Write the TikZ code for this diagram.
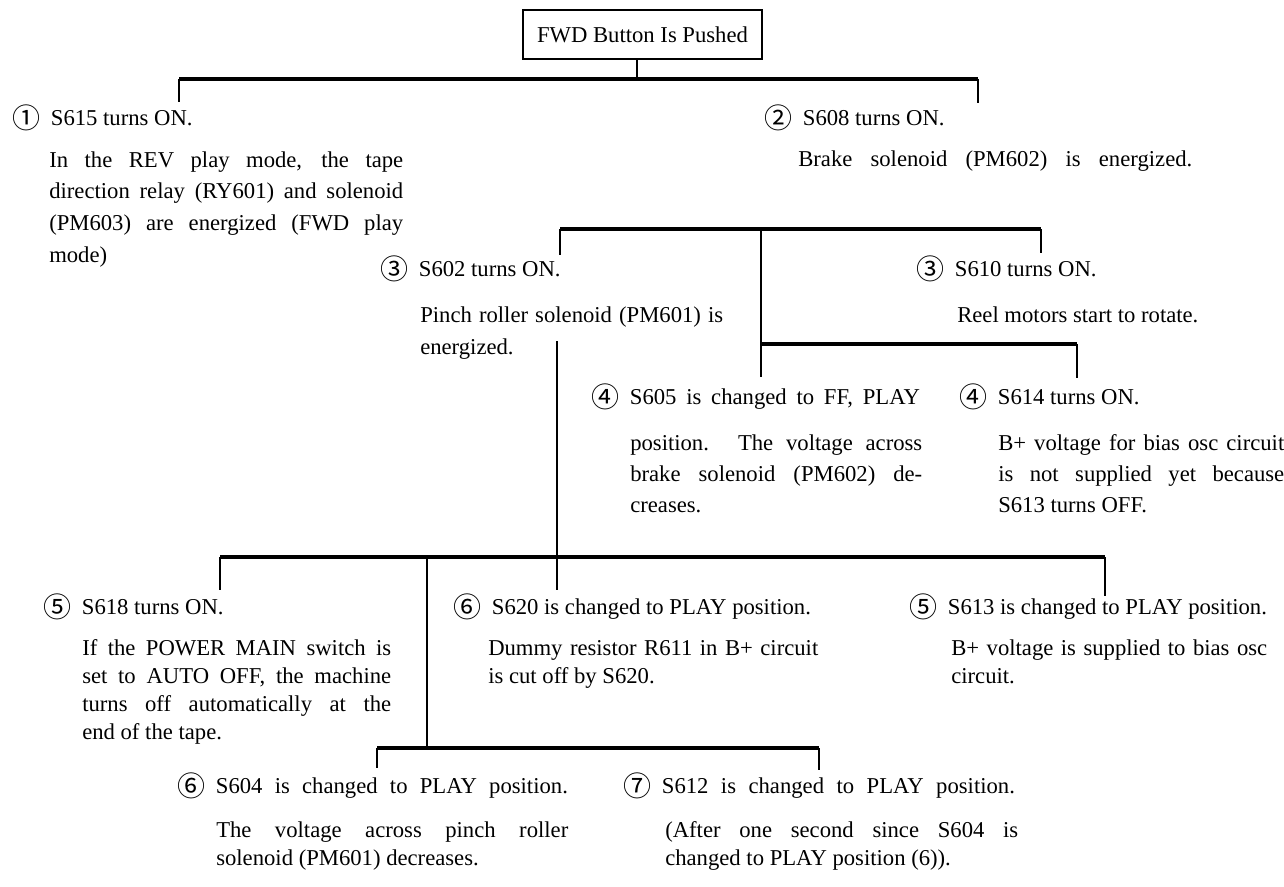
\documentclass[tikz,border=0pt]{standalone}
\usepackage{fontspec}
\setmainfont{Liberation Serif}
\newfontfamily\symf{Noto Sans CJK JP}
\newcommand{\cn}[1]{\makebox[29pt][l]{\raisebox{-2.6pt}{\symf\fontsize{21}{21}\selectfont #1}}}
\tikzset{
  hd/.style={anchor=base west,inner sep=0pt},
  txt/.style={anchor=base west,inner sep=0pt,align=justify},
  bar/.style={line width=2.6pt},
  drop/.style={line width=1.7pt}
}
\begin{document}
\begin{tikzpicture}[x=0.75pt,y=-0.75pt,font=\fontsize{17}{24}\selectfont]
\useasboundingbox (0,0) rectangle (1284,886);
%top box
\node[draw,line width=1.4pt,inner sep=0pt,minimum width=179pt,minimum height=36.75pt] (fwd) at (642.5,34.5) {FWD Button Is Pushed};
%first level
\node[hd] (s615) at (12,125) {\cn{①}S615 turns ON.};
\node[txt,text width=265.5pt,font=\fontsize{17}{23.8}\selectfont] (relay) at (49,167) {In the REV play mode, the tape\linebreak direction relay (RY601) and solenoid\linebreak (PM603) are energized (FWD play\linebreak mode)};
\node[hd] (s608) at (764,125) {\cn{②}S608 turns ON.};
\node[hd] (brake) at (798,166) {\makebox[295.5pt][s]{Brake solenoid (PM602) is energized.}};
%second level
\node[hd] (s602) at (380,276) {\cn{③}S602 turns ON.};
\node[txt,text width=227.25pt] (pinch) at (420,322) {Pinch roller solenoid (PM601) is\linebreak energized.};
\node[hd] (s610) at (916,276) {\cn{③}S610 turns ON.};
\node[hd] (reel) at (957,322) {Reel motors start to rotate.};
\node[hd] (s605) at (591,404) {\cn{④}\makebox[217.5pt][s]{S605 is changed to FF, PLAY}};
\node[txt,text width=219pt,font=\fontsize{17}{23.6}\selectfont] (across) at (630,450) {position. The voltage across\linebreak brake solenoid (PM602) de-\linebreak creases.};
\node[hd] (s614) at (959,404) {\cn{④}S614 turns ON.};
\node[txt,text width=214.5pt,font=\fontsize{17}{23.6}\selectfont] (bias) at (998,450) {B+ voltage for bias osc circuit\linebreak is not supplied yet because\linebreak S613 turns OFF.};
%third level
\node[hd] (s618) at (43,614) {\cn{⑤}S618 turns ON.};
\node[txt,text width=231.75pt,font=\fontsize{17}{21.2}\selectfont] (power) at (82,655) {If the POWER MAIN switch is\linebreak set to AUTO OFF, the machine\linebreak turns off automatically at the\linebreak end of the tape.};
\node[hd] (s620) at (453,614) {\cn{⑥}S620 is changed to PLAY position.};
\node[txt,text width=247.5pt,font=\fontsize{17}{21.2}\selectfont] (dummy) at (488,655) {Dummy resistor R611 in B+ circuit\linebreak is cut off by S620.};
\node[hd] (s613) at (909,614) {\cn{⑤}S613 is changed to PLAY position.};
\node[txt,text width=237pt,font=\fontsize{17}{21.2}\selectfont] (osc) at (951,655) {B+ voltage is supplied to bias osc\linebreak circuit.};
%fourth level
\node[hd] (s604) at (177,793) {\cn{⑥}\makebox[264pt][s]{S604 is changed to PLAY position.}};
\node[txt,text width=264pt,font=\fontsize{17}{21}\selectfont] (roller) at (216,837) {The voltage across pinch roller\linebreak solenoid (PM601) decreases.};
\node[hd] (s612) at (623,793) {\cn{⑦}\makebox[264.75pt][s]{S612 is changed to PLAY position.}};
\node[txt,text width=264.75pt,font=\fontsize{17}{21}\selectfont] (second) at (665,837) {(After one second since S604 is\linebreak changed to PLAY position (6)).};
%bars
\coordinate (b1w) at (179,79);
\coordinate (b1m) at (637,79);
\coordinate (b1e) at (978,79);
\coordinate (b2w) at (560,229);
\coordinate (b2m) at (761,229);
\coordinate (b2e) at (1041,229);
\coordinate (b2s) at (761,344);
\coordinate (b2t) at (1077,344);
\coordinate (up3) at (557,341);
\coordinate (b3w) at (220,557);
\coordinate (b3m) at (427,557);
\coordinate (b3e) at (1105,557);
\coordinate (b4w) at (377,748);
\coordinate (b4e) at (819,748);
\draw[drop] (b1m |- fwd.south) -- (b1m);
\draw[bar] (b1w) -- (b1e);
\draw[drop] (b1w) -- ++(0,23);
\draw[drop] (b1e) -- ++(0,24);
\draw[bar] (b2w) -- (b2e);
\draw[drop] (b2w) -- ++(0,26);
\draw[drop] (b2e) -- ++(0,24);
\draw[drop] (b2m) -- ++(0,148);
\draw[bar] (b2s) -- (b2t);
\draw[drop] (b2t) -- ++(0,34);
\draw[drop] (up3) -- ++(0,249);
\draw[bar] (b3w) -- (b3e);
\draw[drop] (b3w) -- ++(0,33);
\draw[drop] (b3e) -- ++(0,39);
\draw[drop] (b3m) -- (b3m |- b4w);
\draw[bar] (b4w) -- (b4e);
\draw[drop] (b4w) -- ++(0,20);
\draw[drop] (b4e) -- ++(0,22);
\end{tikzpicture}
\end{document}
